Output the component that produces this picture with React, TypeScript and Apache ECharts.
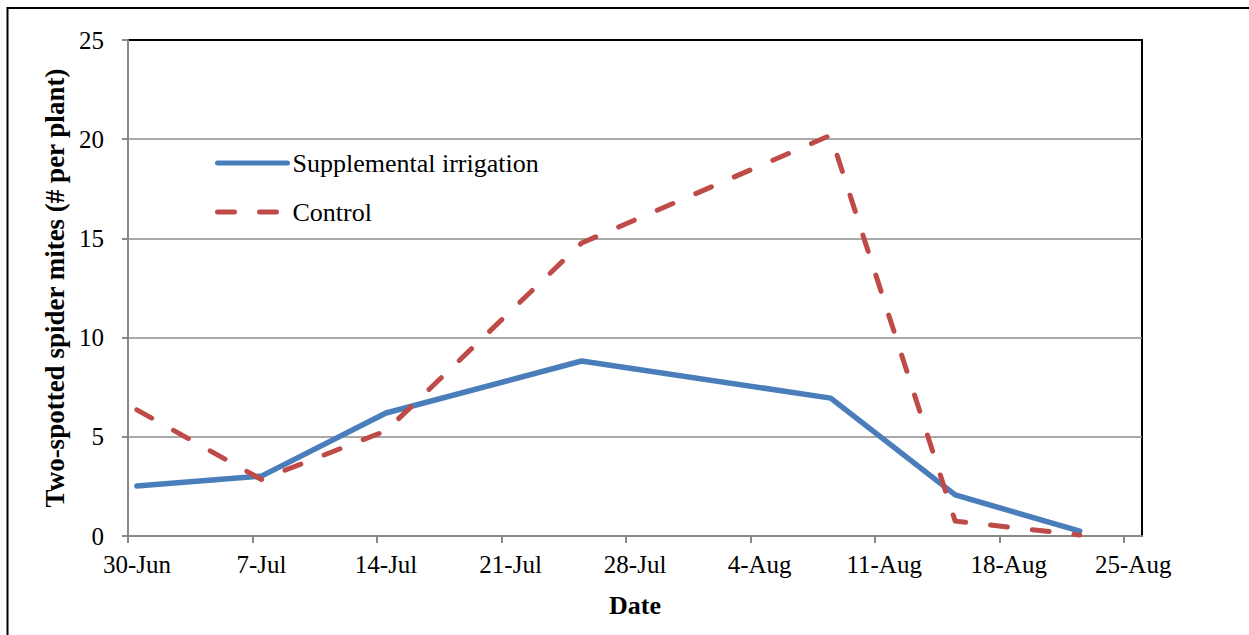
import React, { useEffect, useRef } from "react";
import * as echarts from "echarts";

// ---- data ----
const xTickLabels = ["30-Jun", "7-Jul", "14-Jul", "21-Jul", "28-Jul", "4-Aug", "11-Aug", "18-Aug", "25-Aug"];
const sampleDates = ["2013-06-30", "2013-07-07", "2013-07-14", "2013-07-25", "2013-08-08", "2013-08-15", "2013-08-22"];
const supplemental = [2.52, 3.02, 6.2, 8.82, 6.95, 2.07, 0.25];
const control = [6.36, 2.85, 5.3, 14.77, 20.2, 0.75, 0.05];
const seriesNames = ["Supplemental irrigation", "Control"];
const yMin = 0;
const yMax = 25;
const yStep = 5;

const DAY_MS = 86400000;
const axisStart = Date.UTC(2013, 5, 30);
// day offset from 30-Jun; Excel date axes centre each point inside its day slot (+0.5)
const toDay = (s: string) => (Date.parse(s + "T00:00:00Z") - axisStart) / DAY_MS + 0.5;
const tickValues = xTickLabels.map((_, i) => i * 7);

const FONT = "'Liberation Serif', 'Times New Roman', serif";

export default function App() {
  const ref = useRef<HTMLDivElement>(null);
  useEffect(() => {
    if (!ref.current) return;
    const chart = echarts.init(ref.current, undefined, { renderer: "svg" });
    const option: any = {
      animation: false,
      backgroundColor: "#fff",
      textStyle: { fontFamily: FONT, color: "#000" },
      graphic: [
        {
          type: "rect",
          shape: { x: 7.5, y: 8, width: 1400, height: 800 },
          style: { fill: "none", stroke: "#000", lineWidth: 2 },
          silent: true,
        },
      ],
      grid: {
        left: 128,
        right: 107,
        top: 40,
        bottom: 99,
        show: true,
        borderColor: "#000",
        borderWidth: 2,
        backgroundColor: "transparent",
      },
      legend: {
        orient: "vertical",
        left: 210,
        top: 143,
        itemWidth: 70,
        itemHeight: 30,
        itemGap: 19,
        data: seriesNames,
        itemStyle: { opacity: 0 },
        lineStyle: { width: 5, cap: "round" },
        textStyle: { fontFamily: FONT, fontSize: 26, color: "#000", lineHeight: 30 },
      },
      xAxis: {
        type: "value",
        min: 0,
        max: 57,
        interval: 7,
        name: "Date",
        nameLocation: "middle",
        nameGap: 56,
        nameTextStyle: { fontFamily: FONT, fontSize: 26, fontWeight: "bold", color: "#000" },
        axisLine: { show: true, onZero: false, lineStyle: { color: "#898989", width: 2 } },
        axisTick: { show: true, length: 7, customValues: tickValues, lineStyle: { color: "#898989", width: 2 } },
        axisLabel: {
          customValues: tickValues,
          fontFamily: FONT,
          fontSize: 25,
          color: "#000",
          margin: 16,
          padding: [0, 0, 0, 18],
          formatter: (v: number) => {
            const i = Math.round(v / 7);
            return Math.abs(v - i * 7) < 1e-6 && xTickLabels[i] ? xTickLabels[i] : "";
          },
        },
        splitLine: { show: false },
      },
      yAxis: {
        type: "value",
        min: yMin,
        max: yMax,
        interval: yStep,
        name: "Two-spotted spider mites (# per plant)",
        nameLocation: "middle",
        nameRotate: 90,
        nameGap: 57,
        nameTextStyle: { fontFamily: FONT, fontSize: 27, fontWeight: "bold", color: "#000" },
        axisLine: { show: true, lineStyle: { color: "#898989", width: 2 } },
        axisTick: { show: true, length: 6, lineStyle: { color: "#898989", width: 2 } },
        axisLabel: { fontFamily: FONT, fontSize: 25, color: "#000", margin: 24 },
        splitLine: { show: true, showMaxLine: false, lineStyle: { color: "#8c8c8c", width: 1.5 } },
      },
      series: [
        {
          name: seriesNames[0],
          type: "line",
          data: sampleDates.map((d, i) => [toDay(d), supplemental[i]]),
          symbol: "none",
          showSymbol: false,
          lineStyle: { color: "#4a7ebb", width: 5.5, cap: "round", join: "round" },
          itemStyle: { color: "#4a7ebb" },
          z: 2,
        },
        {
          name: seriesNames[1],
          type: "line",
          data: sampleDates.map((d, i) => [toDay(d), control[i]]),
          symbol: "none",
          showSymbol: false,
          lineStyle: { color: "#be4b48", width: 5, type: [17, 25], cap: "round", join: "round" },
          itemStyle: { color: "#be4b48" },
          z: 3,
        },
      ],
    };
    chart.setOption(option);
    return () => chart.dispose();
  }, []);
  return (
    <div
      ref={ref}
      style={{ position: "fixed", left: 0, top: 0, width: 1249, height: 635, background: "#fff" }}
    />
  );
}
